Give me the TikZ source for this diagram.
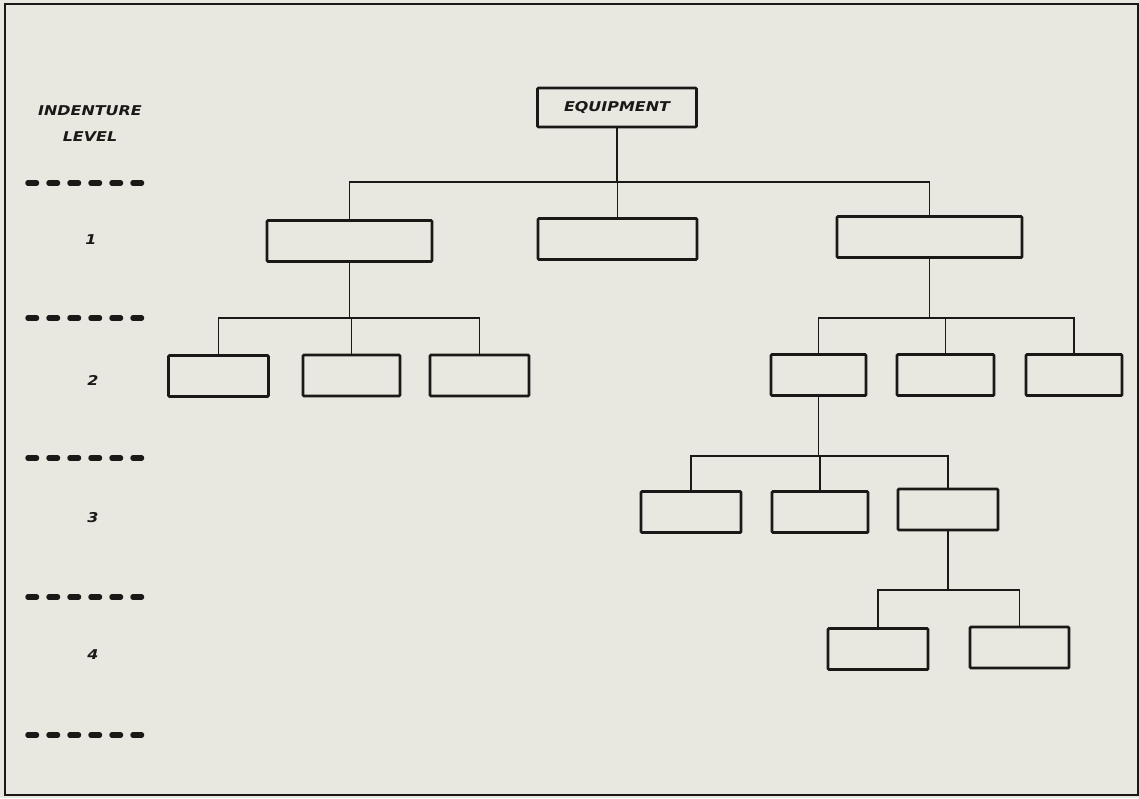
\documentclass[tikz,border=0pt]{standalone}
\usepackage{fontspec}
\setmainfont{DejaVu Sans}
\newfontfamily\handfont[FakeStretch=1.18]{DejaVu Sans}
\begin{document}
\begin{tikzpicture}[x=1pt,y=-1pt,
  ink/.style={draw={rgb,255:red,28;green,24;blue,24}},
  blk/.style={ink, line width=2.8pt, rectangle, rounded corners=1pt, inner sep=0pt, minimum height=41pt},
  conn/.style={ink, line width=1.8pt},
  lvldash/.style={ink, line width=5.5pt, line cap=round, dash pattern=on 8.5pt off 12.5pt},
  lbl/.style={font=\handfont\fontsize{13.5}{16}\selectfont\bfseries\itshape, text={rgb,255:red,28;green,24;blue,24}, inner sep=0pt}
]
\definecolor{paper}{RGB}{232,232,224}
\fill[paper] (0,0) rectangle (1139,798);
\useasboundingbox (0,0) rectangle (1139,798);
\draw[ink, line width=1.6pt] (5,4) rectangle (1138,795);

% left legend
\node[lbl] (ind) at (90,111) {INDENTURE};
\node[lbl] (lev) at (90,137) {LEVEL};
\foreach \i/\yy in {a/183, b/318, c/458, d/597, e/735} {
  \coordinate (d\i l) at (28,\yy);
  \coordinate (d\i r) at (141.5,\yy);
  \draw[lvldash] (d\i l) -- (d\i r);
}
\node[lbl] (n1) at (91,240) {1};
\node[lbl] (n2) at (93,380) {2};
\node[lbl] (n3) at (93,518) {3};
\node[lbl] (n4) at (93,655) {4};

% boxes
\node[blk, minimum width=159pt, minimum height=39pt, lbl, draw] (eq) at (617,107.5) {EQUIPMENT};
\node[blk, minimum width=165pt] (l1a) at (349.5,241) {};
\node[blk, minimum width=159pt] (l1b) at (617.5,239) {};
\node[blk, minimum width=185pt] (l1c) at (929.5,237) {};

\node[blk, minimum width=100pt] (l2a) at (218.5,376) {};
\node[blk, minimum width=97pt] (l2b) at (351.5,375.5) {};
\node[blk, minimum width=99pt] (l2c) at (479.5,375.5) {};
\node[blk, minimum width=95pt] (l2d) at (818.5,375) {};
\node[blk, minimum width=97pt] (l2e) at (945.5,375) {};
\node[blk, minimum width=96pt] (l2f) at (1074,375) {};

\node[blk, minimum width=100pt] (l3a) at (691,512) {};
\node[blk, minimum width=96pt] (l3b) at (820,512) {};
\node[blk, minimum width=100pt] (l3c) at (948,509.5) {};

\node[blk, minimum width=100pt] (l4a) at (878,649) {};
\node[blk, minimum width=99pt] (l4b) at (1019.5,647.5) {};

% connectors
\coordinate (bus0) at (0,182);
\draw[conn] (eq.south) -- (eq.south |- bus0);
\draw[conn] (l1a.north) -- (l1a.north |- bus0) -- (l1c.north |- bus0) -- (l1c.north);
\draw[conn] (l1b.north) -- (l1b.north |- bus0);

\coordinate (bus1) at (0,318);
\draw[conn] (l1a.south) -- (l1a.south |- bus1);
\draw[conn] (l2a.north) -- (l2a.north |- bus1) -- (l2c.north |- bus1) -- (l2c.north);
\draw[conn] (l2b.north) -- (l2b.north |- bus1);

\draw[conn] (l1c.south) -- (l1c.south |- bus1);
\draw[conn] (l2d.north) -- (l2d.north |- bus1) -- (l2f.north |- bus1) -- (l2f.north);
\draw[conn] (l2e.north) -- (l2e.north |- bus1);

\coordinate (bus2) at (0,456);
\draw[conn] (l2d.south) -- (l2d.south |- bus2);
\draw[conn] (l3a.north) -- (l3a.north |- bus2) -- (l3c.north |- bus2) -- (l3c.north);
\draw[conn] (l3b.north) -- (l3b.north |- bus2);

\coordinate (bus3) at (0,590);
\draw[conn] (l3c.south) -- (l3c.south |- bus3);
\draw[conn] (l4a.north) -- (l4a.north |- bus3) -- (l4b.north |- bus3) -- (l4b.north);
\end{tikzpicture}
\end{document}
